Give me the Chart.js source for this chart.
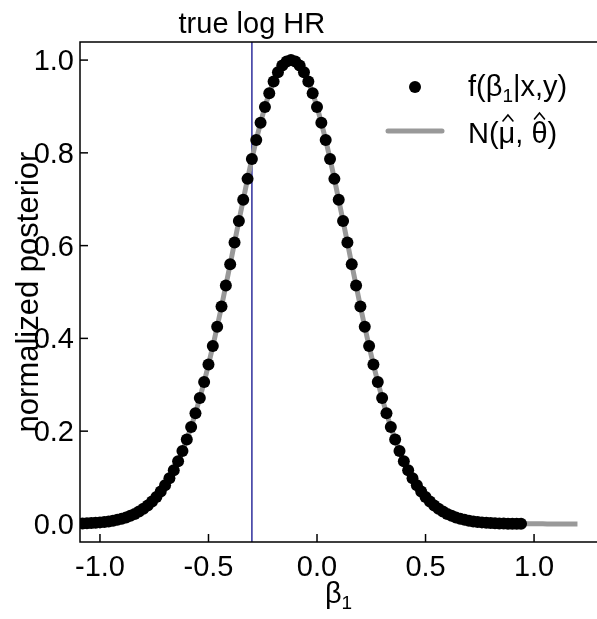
<!DOCTYPE html>
<html>
<head>
<meta charset="utf-8">
<script src="https://cdn.jsdelivr.net/npm/chart.js@4.4.1/dist/chart.umd.min.js"></script>
<style>
  html, body { margin: 0; padding: 0; background: #fff; overflow: hidden; }
  #wrap { width: 597px; height: 619px; }
</style>
</head>
<body>
<div id="wrap"><canvas id="posterior-chart" width="597" height="619"></canvas></div>
<script>
// beta_1 grid where the posterior was evaluated
const betaGrid = [
  -1.08, -1.06, -1.04, -1.02, -1.00, -0.98, -0.96, -0.94, -0.92, -0.90,
  -0.88, -0.86, -0.84, -0.82, -0.80, -0.78, -0.76, -0.74, -0.72, -0.70,
  -0.68, -0.66, -0.64, -0.62, -0.60, -0.58, -0.56, -0.54, -0.52, -0.50,
  -0.48, -0.46, -0.44, -0.42, -0.40, -0.38, -0.36, -0.34, -0.32, -0.30,
  -0.28, -0.26, -0.24, -0.22, -0.20, -0.18, -0.16, -0.14, -0.12, -0.10,
  -0.08, -0.06, -0.04, -0.02, 0.00, 0.02, 0.04, 0.06, 0.08, 0.10,
  0.12, 0.14, 0.16, 0.18, 0.20, 0.22, 0.24, 0.26, 0.28, 0.30,
  0.32, 0.34, 0.36, 0.38, 0.40, 0.42, 0.44, 0.46, 0.48, 0.50,
  0.52, 0.54, 0.56, 0.58, 0.60, 0.62, 0.64, 0.66, 0.68, 0.70,
  0.72, 0.74, 0.76, 0.78, 0.80, 0.82, 0.84, 0.86, 0.88, 0.90,
  0.92, 0.94
];

// normalized posterior f(beta_1 | x, y)
const posteriorValues = [
  0.0011, 0.0015, 0.0019, 0.0025, 0.0033, 0.0042, 0.0054, 0.0069, 0.0088, 0.0111,
  0.0140, 0.0174, 0.0216, 0.0267, 0.0327, 0.0399, 0.0483, 0.0582, 0.0698, 0.0831,
  0.0983, 0.1157, 0.1353, 0.1574, 0.1819, 0.2091, 0.2388, 0.2713, 0.3062, 0.3437,
  0.3834, 0.4253, 0.4689, 0.5139, 0.5600, 0.6065, 0.6531, 0.6991, 0.7439, 0.7869,
  0.8275, 0.8651, 0.8990, 0.9287, 0.9538, 0.9737, 0.9882, 0.9971, 1.0000, 0.9971,
  0.9882, 0.9737, 0.9538, 0.9287, 0.8990, 0.8651, 0.8275, 0.7869, 0.7439, 0.6991,
  0.6531, 0.6065, 0.5600, 0.5139, 0.4689, 0.4253, 0.3834, 0.3437, 0.3062, 0.2713,
  0.2388, 0.2091, 0.1819, 0.1574, 0.1353, 0.1157, 0.0983, 0.0831, 0.0698, 0.0582,
  0.0483, 0.0399, 0.0327, 0.0267, 0.0216, 0.0174, 0.0140, 0.0111, 0.0088, 0.0069,
  0.0054, 0.0042, 0.0033, 0.0025, 0.0019, 0.0015, 0.0011, 0.0008, 0.0006, 0.0005,
  0.0003, 0.0002
];

// normal approximation N(mu_hat, theta_hat)
const normalGrid = [
  -1.08, -1.04, -1.00, -0.96, -0.92, -0.88, -0.84, -0.80, -0.76, -0.72,
  -0.68, -0.64, -0.60, -0.56, -0.52, -0.48, -0.44, -0.40, -0.36, -0.32,
  -0.28, -0.24, -0.20, -0.16, -0.12, -0.08, -0.04, 0.00, 0.04, 0.08,
  0.12, 0.16, 0.20, 0.24, 0.28, 0.32, 0.36, 0.40, 0.44, 0.48,
  0.52, 0.56, 0.60, 0.64, 0.68, 0.72, 0.76, 0.80, 0.84, 0.88,
  0.92, 0.96, 1.00, 1.04, 1.08, 1.12, 1.16, 1.20
];
const normalValues = [
  0.0011, 0.0019, 0.0033, 0.0054, 0.0088, 0.0140, 0.0216, 0.0327, 0.0483, 0.0698,
  0.0983, 0.1353, 0.1819, 0.2388, 0.3062, 0.3834, 0.4689, 0.5600, 0.6531, 0.7439,
  0.8275, 0.8990, 0.9538, 0.9882, 1.0000, 0.9882, 0.9538, 0.8990, 0.8275, 0.7439,
  0.6531, 0.5600, 0.4689, 0.3834, 0.3062, 0.2388, 0.1819, 0.1353, 0.0983, 0.0698,
  0.0483, 0.0327, 0.0216, 0.0140, 0.0088, 0.0054, 0.0033, 0.0019, 0.0011, 0.0006,
  0.0003, 0.0002, 0.0001, 0.0001, 0, 0, 0, 0
];

const trueLogHR = -0.3;
const xTickValues = [-1.0, -0.5, 0.0, 0.5, 1.0];
const yTickValues = [0.0, 0.2, 0.4, 0.6, 0.8, 1.0];

const FONT_FAMILY = "'Liberation Sans', Arial, sans-serif";
const FONT_SIZE = 29;
const INK = '#000000';
const LINE_GREY = '#999999';
const TRUTH_BLUE = '#2e2e9c';

// text with a subscript, e.g. beta_1
function drawSubscripted(ctx, parts, x, y, size) {
    let cx = x;
    parts.forEach(p => {
        const s = p.sub ? Math.round(size * 0.65) : size;
        ctx.font = s + 'px ' + FONT_FAMILY;
        ctx.fillText(p.text, cx, p.sub ? y + size * 0.2 : y);
        cx += ctx.measureText(p.text).width;
    });
    return cx;
}

function measureSubscripted(ctx, parts, size) {
    let w = 0;
    parts.forEach(p => {
        const s = p.sub ? Math.round(size * 0.65) : size;
        ctx.font = s + 'px ' + FONT_FAMILY;
        w += ctx.measureText(p.text).width;
    });
    return w;
}

// small circumflex accent drawn as a chevron
function drawHat(ctx, cx, apexY) {
    ctx.save();
    ctx.strokeStyle = INK;
    ctx.lineWidth = 1.6;
    ctx.lineJoin = 'miter';
    ctx.beginPath();
    ctx.moveTo(cx - 5, apexY + 6);
    ctx.lineTo(cx, apexY);
    ctx.lineTo(cx + 5, apexY + 6);
    ctx.stroke();
    ctx.restore();
}

const frameworkPlugin = {
    id: 'framework',
    beforeDatasetsDraw(chart) {
        const { ctx, chartArea, scales } = chart;
        const px = scales.x.getPixelForValue(trueLogHR);
        ctx.save();
        ctx.strokeStyle = TRUTH_BLUE;
        ctx.lineWidth = 1.5;
        ctx.beginPath();
        ctx.moveTo(px, chartArea.top);
        ctx.lineTo(px, chartArea.bottom);
        ctx.stroke();
        ctx.restore();
    },
    afterDraw(chart) {
        const { ctx, chartArea, scales } = chart;
        const { left, right, top, bottom } = chartArea;
        const edge = chart.width + 4;
        ctx.save();

        // axis lines (left, top, bottom) - no right border, it runs off the page
        ctx.strokeStyle = INK;
        ctx.lineWidth = 1.5;
        ctx.beginPath();
        ctx.moveTo(edge, top);
        ctx.lineTo(left, top);
        ctx.lineTo(left, bottom);
        ctx.lineTo(edge, bottom);
        ctx.stroke();

        // inward tick marks + labels
        ctx.fillStyle = INK;
        ctx.font = FONT_SIZE + 'px ' + FONT_FAMILY;
        ctx.textAlign = 'center';
        ctx.textBaseline = 'alphabetic';
        xTickValues.forEach(v => {
            const px = scales.x.getPixelForValue(v);
            ctx.beginPath();
            ctx.moveTo(px, bottom);
            ctx.lineTo(px, bottom - 8);
            ctx.stroke();
            ctx.fillText(v.toFixed(1), px, bottom + 34);
        });
        ctx.textAlign = 'right';
        ctx.textBaseline = 'middle';
        yTickValues.forEach(v => {
            const py = scales.y.getPixelForValue(v);
            ctx.beginPath();
            ctx.moveTo(left, py);
            ctx.lineTo(left + 8, py);
            ctx.stroke();
            ctx.fillText(v.toFixed(1), left - 6, py + 2);
        });

        // axis titles
        ctx.textAlign = 'left';
        ctx.textBaseline = 'alphabetic';
        const xTitle = [{ text: 'β' }, { text: '1', sub: true }];
        const xw = measureSubscripted(ctx, xTitle, FONT_SIZE);
        drawSubscripted(ctx, xTitle, (left + right) / 2 - xw / 2, 603, FONT_SIZE);

        ctx.save();
        ctx.translate(38, (top + bottom) / 2);
        ctx.rotate(-Math.PI / 2);
        ctx.textAlign = 'center';
        ctx.font = '31px ' + FONT_FAMILY;
        ctx.fillText('normalized posterior', 0, 0);
        ctx.restore();

        // label for the vertical reference line
        ctx.textAlign = 'center';
        ctx.font = FONT_SIZE + 'px ' + FONT_FAMILY;
        ctx.fillText('true log HR', scales.x.getPixelForValue(trueLogHR), 33);

        // legend
        ctx.textAlign = 'left';
        ctx.fillStyle = INK;
        ctx.beginPath();
        ctx.arc(415, 87, 6, 0, Math.PI * 2);
        ctx.fill();
        drawSubscripted(ctx, [{ text: 'f(β' }, { text: '1', sub: true }, { text: '|x,y)' }], 468, 96, FONT_SIZE);

        ctx.strokeStyle = LINE_GREY;
        ctx.lineWidth = 5;
        ctx.lineCap = 'round';
        ctx.beginPath();
        ctx.moveTo(388, 131);
        ctx.lineTo(442, 131);
        ctx.stroke();

        ctx.font = FONT_SIZE + 'px ' + FONT_FAMILY;
        ctx.fillStyle = INK;
        const base = 143;
        let cx = 468;
        ctx.fillText('N(', cx, base);
        cx += ctx.measureText('N(').width;
        const muW = ctx.measureText('μ').width;
        ctx.fillText('μ', cx, base);
        drawHat(ctx, cx + muW / 2 + 1, base - 28);
        cx += muW;
        ctx.fillText(', ', cx, base);
        cx += ctx.measureText(', ').width;
        const thW = ctx.measureText('θ').width;
        ctx.fillText('θ', cx, base);
        drawHat(ctx, cx + thW / 2, base - 30);
        cx += thW;
        ctx.fillText(')', cx, base);

        ctx.restore();
    }
};

const posteriorPoints = betaGrid.map((b, i) => ({ x: b, y: posteriorValues[i] }));
const normalCurve = normalGrid.map((b, i) => ({ x: b, y: normalValues[i] }));

new Chart(document.getElementById('posterior-chart').getContext('2d'), {
    type: 'scatter',
    data: {
        datasets: [
            {
                label: 'f(β1|x,y)',
                data: posteriorPoints,
                pointRadius: 6,
                pointBackgroundColor: INK,
                pointBorderWidth: 0,
                showLine: false,
                order: 1
            },
            {
                label: 'N(μ, θ)',
                data: normalCurve,
                showLine: true,
                pointRadius: 0,
                borderColor: LINE_GREY,
                borderWidth: 5,
                cubicInterpolationMode: 'monotone',
                order: 2
            }
        ]
    },
    options: {
        responsive: false,
        animation: false,
        devicePixelRatio: 1,
        layout: { autoPadding: false, padding: { left: 80, top: 42, right: 0, bottom: 77 } },
        scales: {
            x: { type: 'linear', min: -1.092, max: 1.29, display: false },
            y: { type: 'linear', min: -0.039, max: 1.039, display: false }
        },
        plugins: {
            legend: { display: false },
            tooltip: { enabled: false }
        }
    },
    plugins: [frameworkPlugin]
});
</script>
</body>
</html>
